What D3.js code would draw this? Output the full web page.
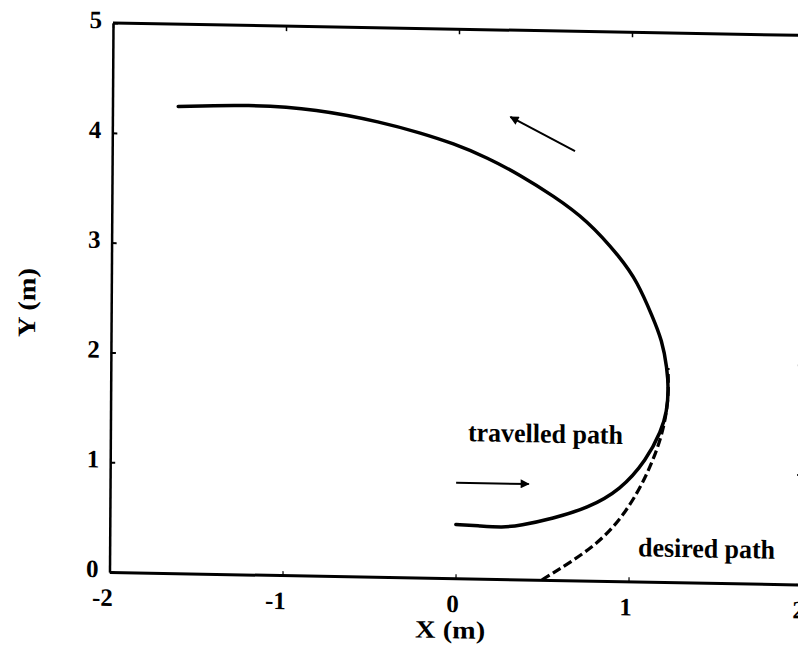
<!DOCTYPE html>
<html>
<head>
<meta charset="utf-8">
<script src="https://cdn.jsdelivr.net/npm/d3@7"></script>
<style>
  html, body { margin: 0; padding: 0; background: #fff; }
  svg { display: block; }
  text { font-family: "Liberation Serif", "Times New Roman", serif; font-weight: bold; fill: #000; }
</style>
</head>
<body>
<svg id="chart" width="798" height="645"></svg>
<script>
// Axis ticks
const xTicks = [-2, -1, 0, 1, 2];
const yTicks = [0, 1, 2, 3, 4, 5];

// Travelled path (m)
const travelledX = [-1.62, -1.21, -0.82, -0.44, -0.22, -0.03, 0.17, 0.36, 0.55, 0.75, 0.94, 1.04, 1.13, 1.185, 1.215, 1.225, 1.215, 1.185, 1.10, 0.95, 0.76, 0.56, 0.37, 0.27, 0.14, 0.0];
const travelledY = [4.25, 4.28, 4.25, 4.14, 4.05, 3.96, 3.835, 3.68, 3.50, 3.28, 2.95, 2.73, 2.41, 2.20, 1.95, 1.75, 1.55, 1.38, 1.11, 0.83, 0.66, 0.56, 0.49, 0.47, 0.48, 0.49];

// Desired path (m)
const desiredX = [0.50, 0.53, 0.66, 0.82, 0.95, 1.05, 1.12, 1.18, 1.215, 1.225, 1.22];
const desiredY = [0.00, 0.03, 0.16, 0.34, 0.56, 0.81, 1.04, 1.29, 1.54, 1.77, 1.95];

// Direction arrows: [x0, y0, x1, y1]
const arrowUpper = [0.675, 3.91, 0.30, 4.21];
const arrowLower = [0.0, 0.87, 0.42, 0.87];

const W = 692, H = 549;
const x = d3.scaleLinear().domain([-2, 2]).range([0, W]);
const y = d3.scaleLinear().domain([0, 5]).range([0, -H]);

const svg = d3.select("#chart");
// plot frame, slightly skewed like the printed figure
const g = svg.append("g").attr("transform", "matrix(1,0.018,-0.0064,1,109.5,572)");

// frame lines
g.append("line").attr("x1", x(-2)).attr("x2", x(2)).attr("y1", y(5)).attr("y2", y(5))
  .attr("stroke", "#000").attr("stroke-width", 3);
g.append("line").attr("x1", x(2)).attr("x2", x(2)).attr("y1", y(5)).attr("y2", y(0))
  .attr("stroke", "#000").attr("stroke-width", 2.5);

// bottom axis
const xAxis = g.append("g").call(d3.axisBottom(x).tickValues(xTicks).tickSize(-4).tickSizeOuter(0).tickFormat(d3.format("d")));
xAxis.select(".domain").attr("stroke-width", 3);
xAxis.selectAll(".tick line").attr("stroke-width", 1.2);
xAxis.selectAll(".tick text").attr("font-size", 25).attr("text-anchor", "end")
  .attr("x", 3).attr("y", 34).attr("dy", null).text(d => d < 0 ? "-" + Math.abs(d) : d);

// top ticks
const xTop = g.append("g").attr("transform", `translate(0,${y(5)})`)
  .call(d3.axisTop(x).tickValues(xTicks).tickSize(-5).tickSizeOuter(0).tickFormat(""));
xTop.select(".domain").remove();
xTop.selectAll(".tick line").attr("stroke-width", 1.5);

// left axis
const yAxis = g.append("g").call(d3.axisLeft(y).tickValues(yTicks).tickSize(-5).tickSizeOuter(0).tickFormat(d3.format("d")));
yAxis.select(".domain").attr("stroke-width", 2.5);
yAxis.selectAll(".tick line").attr("stroke-width", 2);
yAxis.selectAll(".tick text").attr("font-size", 25).attr("text-anchor", "end")
  .attr("x", -11).attr("dy", null).attr("y", 5);

// right ticks
const yRight = g.append("g").attr("transform", `translate(${x(2)},0)`)
  .call(d3.axisRight(y).tickValues(yTicks).tickSize(-5).tickSizeOuter(0).tickFormat(""));
yRight.select(".domain").remove();
yRight.selectAll(".tick line").attr("stroke-width", 2);

// axis titles
g.append("text").attr("x", 341).attr("y", 60).attr("text-anchor", "middle")
  .attr("font-size", 25).attr("textLength", 70).attr("lengthAdjust", "spacingAndGlyphs").text("X (m)");
g.append("text").attr("transform", "translate(-76,-268) rotate(-90)").attr("text-anchor", "middle")
  .attr("font-size", 25).attr("textLength", 69).attr("lengthAdjust", "spacingAndGlyphs").text("Y (m)");

// paths
const line = d3.line().x(d => x(d[0])).y(d => y(d[1])).curve(d3.curveBasis);
const travelled = travelledX.map((v, i) => [v, travelledY[i]]);
const desired = desiredX.map((v, i) => [v, desiredY[i]]);

g.append("path").datum(desired).attr("d", line).attr("fill", "none")
  .attr("stroke", "#000").attr("stroke-width", 3.2).attr("stroke-dasharray", "9,4");
g.append("path").datum(travelled).attr("d", line).attr("fill", "none")
  .attr("stroke", "#000").attr("stroke-width", 3.5).attr("stroke-linecap", "round");

// arrows
svg.append("defs").append("marker").attr("id", "head")
  .attr("viewBox", "0 0 10 10").attr("refX", 9).attr("refY", 5)
  .attr("markerWidth", 13).attr("markerHeight", 9).attr("markerUnits", "userSpaceOnUse")
  .attr("orient", "auto")
  .append("path").attr("d", "M0,0 L10,5 L0,10 z").attr("fill", "#000");

[arrowUpper, arrowLower].forEach(a => {
  g.append("line").attr("x1", x(a[0])).attr("y1", y(a[1])).attr("x2", x(a[2])).attr("y2", y(a[3]))
    .attr("stroke", "#000").attr("stroke-width", 2).attr("marker-end", "url(#head)");
});

// annotations
g.append("text").attr("x", x(0.067)).attr("y", y(1.25)).attr("font-size", 27)
  .attr("textLength", 155).attr("lengthAdjust", "spacingAndGlyphs").text("travelled path");
g.append("text").attr("x", x(1.054)).attr("y", y(0.23)).attr("font-size", 27)
  .attr("textLength", 137).attr("lengthAdjust", "spacingAndGlyphs").text("desired path");
</script>
</body>
</html>
